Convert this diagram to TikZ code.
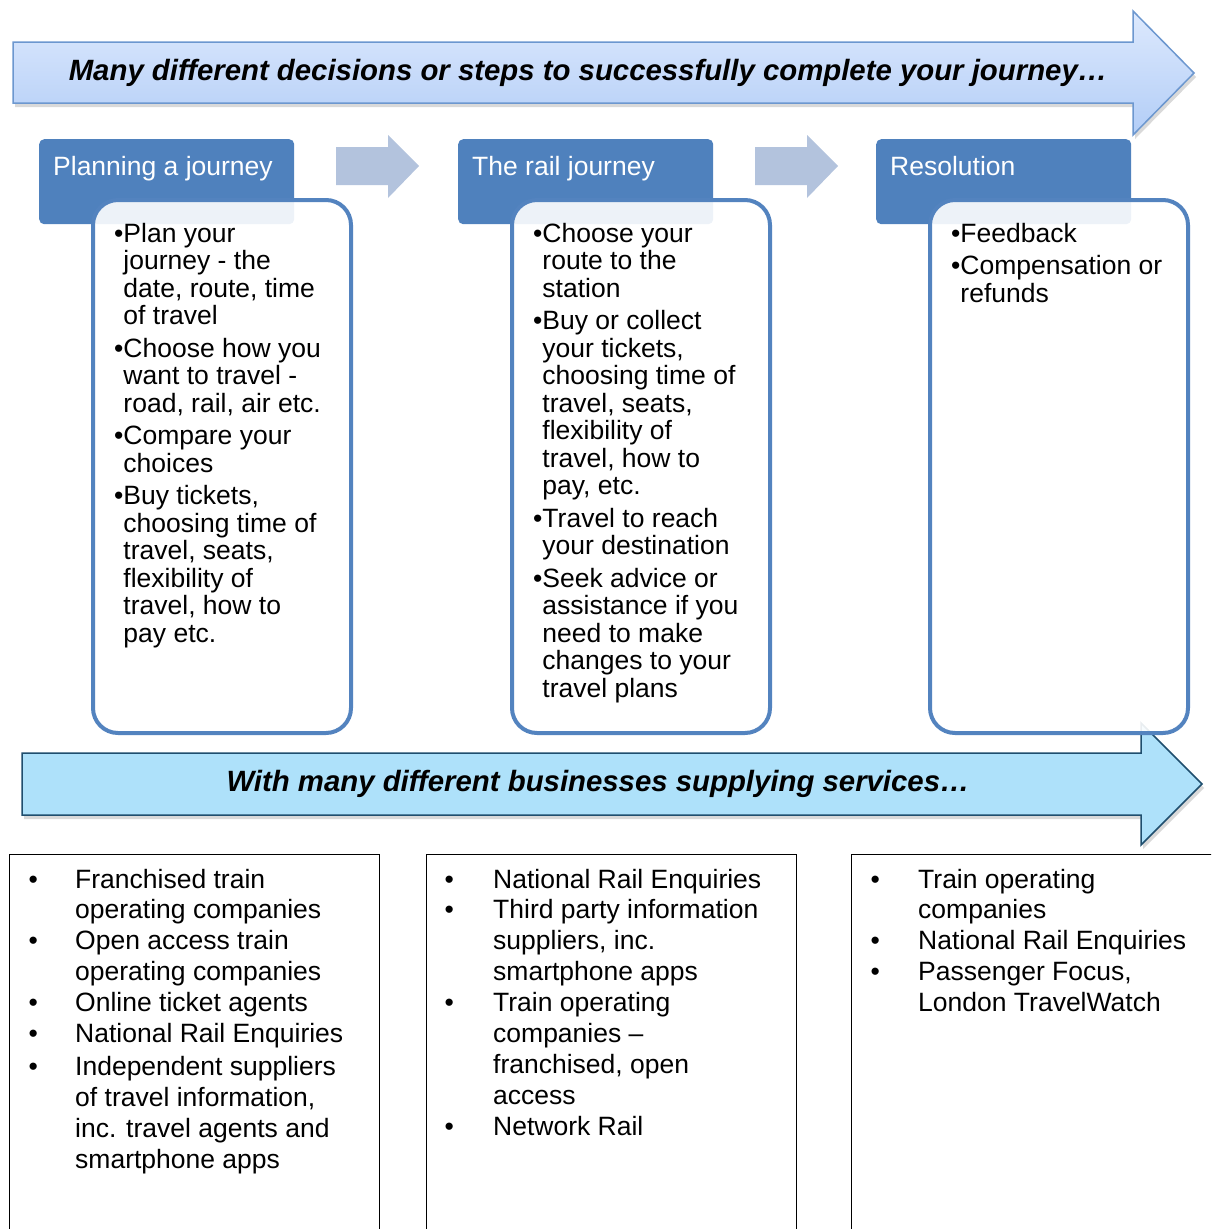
\documentclass[tikz,border=0pt]{standalone}
\usepackage{fontspec}
\setmainfont{Liberation Sans}
\usetikzlibrary{shadows}
\definecolor{hdr}{HTML}{4F81BD}
\definecolor{cbord}{HTML}{5383BF}
\definecolor{topA}{HTML}{DDE9FD}
\definecolor{topB}{HTML}{B2CDF7}
\definecolor{topbord}{HTML}{6C97CF}
\definecolor{chev}{HTML}{B3C3DD}
\definecolor{botfill}{HTML}{AEE1FA}
\definecolor{botbord}{HTML}{1F4E6E}
\tikzset{
  hdrbox/.style={fill=hdr, rounded corners=5pt, inner sep=0, anchor=north west},
  hdrtext/.style={text=white, anchor=base west, inner sep=0, font=\fontsize{26.5}{30}\selectfont},
  cbox/.style={draw=cbord, line width=4pt, rounded corners=25pt, fill=white, fill opacity=0.9, inner sep=0, anchor=north west},
  ctext/.style={anchor=base west, inner sep=0, font=\fontsize{26.5}{27.5}\selectfont},
  bbox/.style={draw=black, line width=1.5pt, inner sep=0, anchor=north west, minimum height=420pt},
  btext/.style={anchor=base west, inner sep=0, font=\fontsize{26.5}{30.9}\selectfont},
  chevron/.style={fill=chev},
  bigtext/.style={anchor=base, inner sep=0, font=\fontsize{29.35}{34}\selectfont\bfseries\itshape},
  shad/.style={drop shadow={opacity=0.3, shadow xshift=2pt, shadow yshift=-4pt}}
}
\begin{document}
\begin{tikzpicture}[x=1pt, y=-1pt]
\useasboundingbox (0,0) rectangle (1211,1229);
\clip (0,0) rectangle (1211,1229);
% top arrow
\path[draw=topbord, line width=1.5pt, top color=topA, bottom color=topB, shad]
  (13,42) -- (1133,42) -- (1133,11) -- (1194,73) -- (1133,135) -- (1133,103) -- (13,103) -- cycle;
\node[bigtext] (toptext) at (588,80) {Many different decisions or steps to successfully complete your journey…};
% chevrons
\path[chevron] (336,147) -- (388,147) -- (388,135) -- (419,166) -- (388,198) -- (388,185) -- (336,185) -- cycle;
\path[chevron] (755,147) -- (807,147) -- (807,135) -- (838,166) -- (807,198) -- (807,185) -- (755,185) -- cycle;
% bottom arrow
\path[draw=botbord, line width=1.5pt, fill=botfill, shad]
  (22,753) -- (1141,753) -- (1141,723) -- (1202,784) -- (1141,845) -- (1141,815) -- (22,815) -- cycle;
\node[bigtext] (bottext) at (598,791) {With many different businesses supplying services…};
% headers
\node[hdrbox, minimum width=255pt, minimum height=85pt] (h1) at (39,139) {};
\node[hdrbox, minimum width=255pt, minimum height=85pt] (h2) at (458,139) {};
\node[hdrbox, minimum width=255pt, minimum height=85pt] (h3) at (876,139) {};
\node[hdrtext] (h1t) at (53,175) {Planning a journey};
\node[hdrtext] (h2t) at (472,175) {The rail journey};
\node[hdrtext] (h3t) at (890,175) {Resolution};
% content boxes
\node[cbox, minimum width=258pt, minimum height=533pt] (c1) at (91,198) {};
\node[cbox, minimum width=258pt, minimum height=533pt] (c2) at (510,198) {};
\node[cbox, minimum width=258pt, minimum height=533pt] (c3) at (928,198) {};
\node[ctext] (c1t) at (114,242) {\begin{tabular}[t]{@{}l@{}l@{}}
•&Plan your\\ &journey - the\\ &date, route, time\\ &of travel\\[5pt]
•&Choose how you\\ &want to travel -\\ &road, rail, air etc.\\[5pt]
•&Compare your\\ &choices\\[5pt]
•&Buy tickets,\\ &choosing time of\\ &travel, seats,\\ &flexibility of\\ &travel, how to\\ &pay etc.
\end{tabular}};
\node[ctext] (c2t) at (533,242) {\begin{tabular}[t]{@{}l@{}l@{}}
•&Choose your\\ &route to the\\ &station\\[5pt]
•&Buy or collect\\ &your tickets,\\ &choosing time of\\ &travel, seats,\\ &flexibility of\\ &travel, how to\\ &pay, etc.\\[5pt]
•&Travel to reach\\ &your destination\\[5pt]
•&Seek advice or\\ &assistance if you\\ &need to make\\ &changes to your\\ &travel plans
\end{tabular}};
\node[ctext] (c3t) at (951,242) {\begin{tabular}[t]{@{}l@{}l@{}}
•&Feedback\\[5pt]
•&Compensation or\\ &refunds
\end{tabular}};
% bottom boxes
\node[bbox, minimum width=370pt] (b1) at (8.5,853.5) {};
\node[bbox, minimum width=370pt] (b2) at (425.5,853.5) {};
\node[bbox, minimum width=420pt] (b3) at (850.5,853.5) {};
\node[btext] (b1t) at (28.5,888) {\begin{tabular}[t]{@{}p{46.5pt}@{}l@{}}
•&Franchised train\\ &operating companies\\
•&Open access train\\ &operating companies\\
•&Online ticket agents\\
•&National Rail Enquiries\\[2pt]
•&Independent suppliers\\ &of travel information,\\ &inc. travel agents and\\ &smartphone apps
\end{tabular}};
\node[btext] (b2t) at (444.5,888) {\begin{tabular}[t]{@{}p{48.5pt}@{}l@{}}
•&National Rail Enquiries\\
•&Third party information\\ &suppliers, inc.\\ &smartphone apps\\
•&Train operating\\ &companies –\\ &franchised, open\\ &access\\
•&Network Rail
\end{tabular}};
\node[btext] (b3t) at (870.5,888) {\begin{tabular}[t]{@{}p{47.5pt}@{}l@{}}
•&Train operating\\ &companies\\
•&National Rail Enquiries\\
•&Passenger Focus,\\ &London TravelWatch
\end{tabular}};
\end{tikzpicture}
\end{document}
